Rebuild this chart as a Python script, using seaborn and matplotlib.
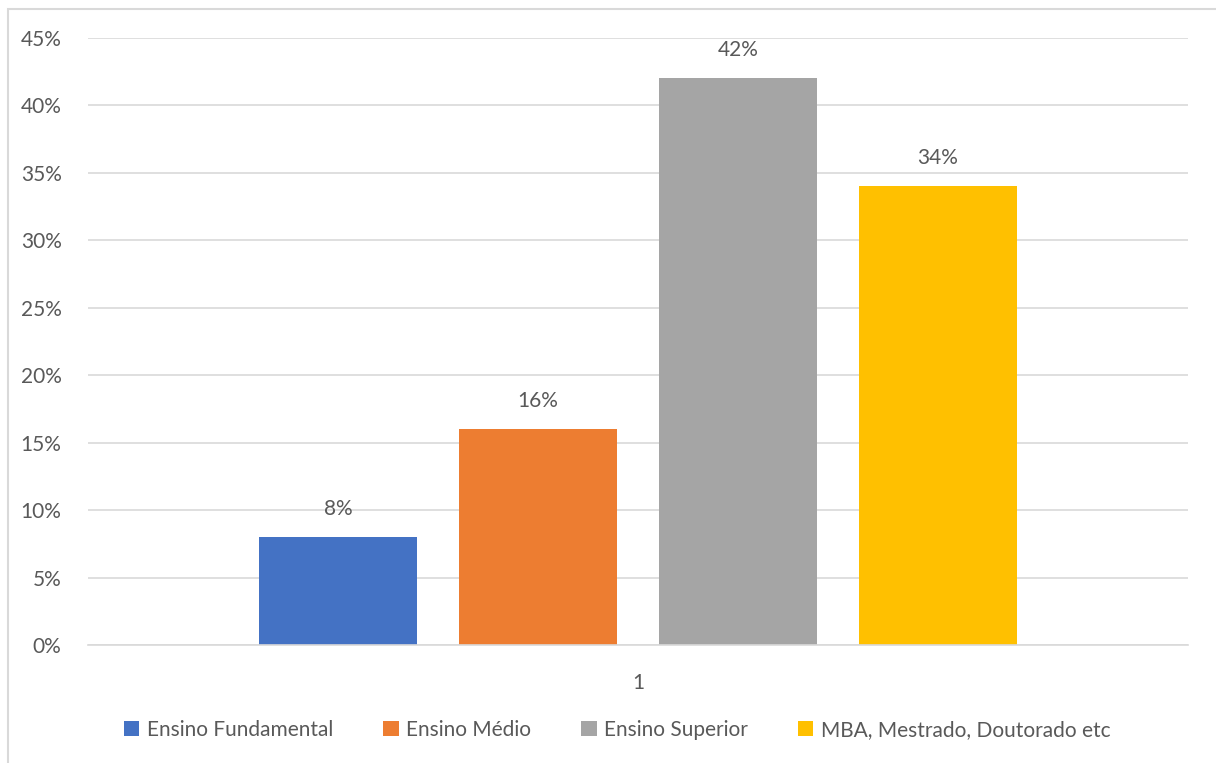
import matplotlib
matplotlib.use("Agg")
import matplotlib.pyplot as plt
import matplotlib.patches as mpatches
from matplotlib.ticker import PercentFormatter
import seaborn as sns
import pandas as pd

# Education level shares
categories = ["1"]
series = ["Ensino Fundamental", "Ensino Médio", "Ensino Superior",
          "MBA, Mestrado, Doutorado etc"]
values = [0.08, 0.16, 0.42, 0.34]
colors = ["#4472C4", "#ED7D31", "#A5A5A5", "#FFC000"]

df = pd.DataFrame({
    "cat": categories * len(series),
    "serie": series,
    "valor": values,
})

sns.set_theme(style="white")
plt.rcParams["font.family"] = ["Lato", "DejaVu Sans"]
text_color = "#595959"
grid_color = "#D9D9D9"
fs = 15

fig = plt.figure(figsize=(12.16, 7.63), dpi=100)
ax = fig.add_axes([88 / 1216, 1 - 645 / 763, 1100 / 1216, 607 / 763])

sns.barplot(data=df, x="cat", y="valor", hue="serie", palette=colors,
            width=0.727, gap=0.21, saturation=1, linewidth=0, ax=ax, legend=True)

ax.set_xlim(-0.5, 0.5)
ax.set_ylim(0, 0.45)
ax.set_yticks([i * 0.05 for i in range(10)])
ax.yaxis.set_major_formatter(PercentFormatter(1.0, decimals=0))
ax.grid(axis="y", color=grid_color, linewidth=1.2)
ax.set_axisbelow(True)
for side in ["top", "right", "left"]:
    ax.spines[side].set_visible(False)
ax.spines["bottom"].set_color(grid_color)
ax.spines["bottom"].set_linewidth(1.2)
ax.tick_params(axis="both", length=0, labelsize=fs, colors=text_color)
ax.tick_params(axis="y", pad=19)
ax.tick_params(axis="x", pad=20)
ax.set_xlabel("")
ax.set_ylabel("")

for container in ax.containers:
    ax.bar_label(container, labels=[f"{v * 100:.0f}%" for v in container.datavalues],
                 padding=13, fontsize=fs, color=text_color)

handles, labels = ax.get_legend_handles_labels()
ax.get_legend().remove()
fig.legend(handles, labels, loc="center", bbox_to_anchor=(617 / 1216, 1 - 730 / 763),
           ncol=4, frameon=False, fontsize=fs, labelcolor=text_color,
           handlelength=0.75, handleheight=0.75, handletextpad=0.35,
           columnspacing=2.4)

# Chart area border
fig.patches.append(mpatches.Rectangle((8 / 1216, -0.1), 1.2, 1 - 9 / 763 + 0.1,
                                      transform=fig.transFigure, fill=False,
                                      edgecolor=grid_color, linewidth=1.5))

fig.savefig("out.png", dpi=100, facecolor="white")
